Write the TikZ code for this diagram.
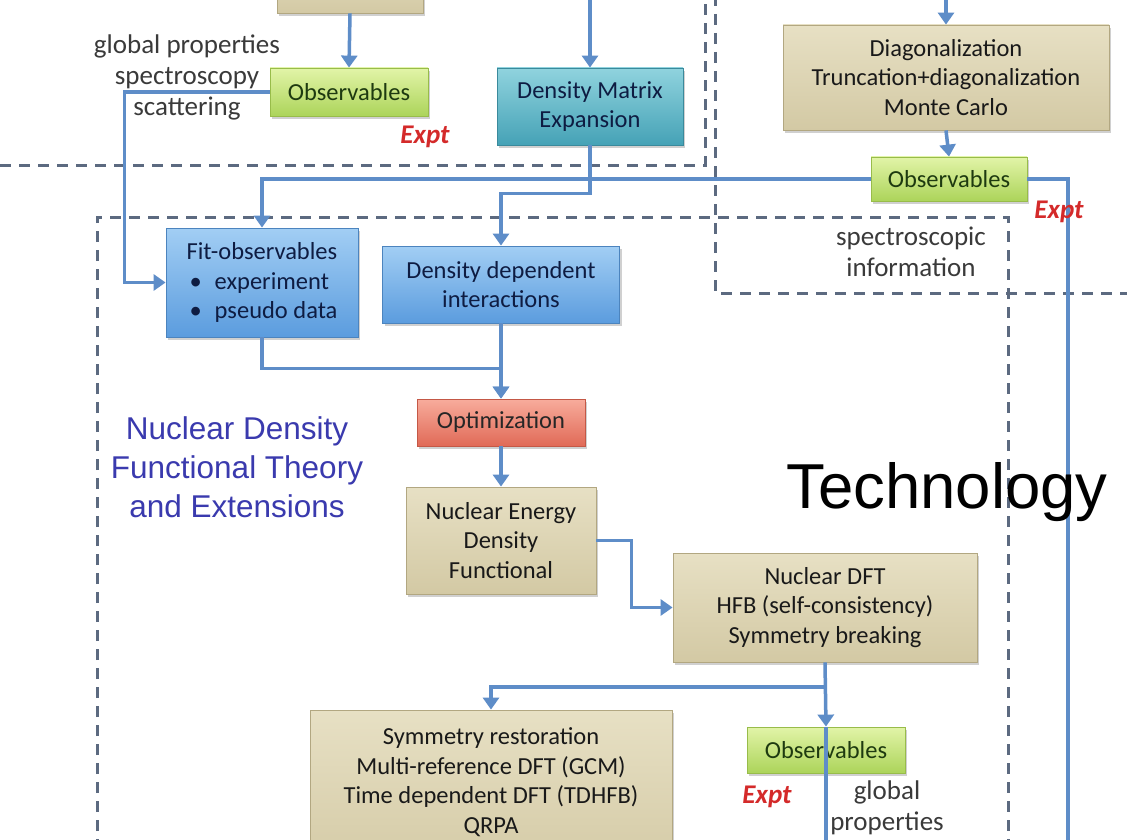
\documentclass[tikz,border=0pt]{standalone}
\usepackage{fontspec}
\setmainfont{Carlito}
\newfontfamily\arialf{Liberation Sans}
\usetikzlibrary{arrows.meta,shadows}
\definecolor{tanT}{HTML}{E7E0C4}
\definecolor{tanB}{HTML}{D3C9A4}
\definecolor{tanD}{HTML}{B2A781}
\definecolor{grnT}{HTML}{E2F4A8}
\definecolor{grnB}{HTML}{ACD45A}
\definecolor{grnD}{HTML}{98BC4A}
\definecolor{bluT}{HTML}{A2CEF4}
\definecolor{bluB}{HTML}{5B9CDE}
\definecolor{bluD}{HTML}{4C84BE}
\definecolor{tealT}{HTML}{90D3DE}
\definecolor{tealB}{HTML}{45A2B6}
\definecolor{tealD}{HTML}{3A8A9C}
\definecolor{redT}{HTML}{F8AC9C}
\definecolor{redB}{HTML}{E06A57}
\definecolor{redD}{HTML}{C45846}
\definecolor{conn}{HTML}{5E8DC8}
\definecolor{dashc}{HTML}{5C6A80}
\definecolor{exptc}{HTML}{D42A2A}
\definecolor{grayt}{HTML}{3A3A3A}
\definecolor{titleblue}{HTML}{3A3AAE}
\definecolor{navyt}{HTML}{0E1C42}
\definecolor{greent}{HTML}{1E3A10}
\begin{document}
\begin{tikzpicture}[x=1pt,y=-1pt,
  bx/.style={rectangle, inner sep=0pt, align=center, line width=0.8pt,
    font=\fontsize{24.5}{29.5}\selectfont,
    drop shadow={shadow xshift=2pt, shadow yshift=-3pt, opacity=0.3, fill=black!60}},
  tanbox/.style={bx, draw=tanD, top color=tanT, bottom color=tanB, text=black!90},
  grnbox/.style={bx, draw=grnD, top color=grnT, bottom color=grnB, text=greent},
  blubox/.style={bx, draw=bluD, top color=bluT, bottom color=bluB, text=navyt},
  tealbox/.style={bx, draw=tealD, top color=tealT, bottom color=tealB, text=navyt},
  redbox/.style={bx, draw=redD, top color=redT, bottom color=redB, text=black!85},
  link/.style={draw=conn, line width=3.5pt},
  arr/.style={link, -{Triangle[width=16pt,length=12pt]}},
  dashline/.style={draw=dashc, line width=3pt, dash pattern=on 11pt off 8pt},
  side/.style={align=center, text=grayt, font=\fontsize{27}{31}\selectfont},
  expt/.style={text=exptc, font=\fontsize{27}{30}\selectfont\bfseries\itshape}
]
\useasboundingbox (0,0) rectangle (1127,840);
\fill[white] (0,0) rectangle (1127,840);

% dashed region borders
\draw[dashline] (0,165) -- (705,165) -- (705,-5);
\draw[dashline] (715,-5) -- (715,293) -- (1135,293);
\draw[dashline] (97,850) -- (97,217) -- (1008,217) -- (1008,850);

% boxes
\node[tanbox, minimum width=146pt, minimum height=60pt] (tantop) at (350,-17) {};
\node[grnbox, minimum width=158pt, minimum height=48pt] (obs1) at (349,92) {Observables};
\node[tealbox, minimum width=186pt, minimum height=77pt] (dme) at (590,106.5) {Density Matrix\\Expansion};
\node[tanbox, minimum width=326pt, minimum height=105pt] (diag) at (946,77.5) {Diagonalization\\Truncation+diagonalization\\Monte Carlo};
\node[grnbox, minimum width=156pt, minimum height=44pt] (obs2) at (949,179) {Observables};
\node[blubox, minimum width=192pt, minimum height=109pt, align=left] (fit) at (262,282.5)
  {Fit-observables\\\hspace{3pt}\textbullet\hspace{13pt}experiment\\\hspace{3pt}\textbullet\hspace{13pt}pseudo data};
\node[blubox, minimum width=237pt, minimum height=77pt] (ddi) at (501,284.5) {Density dependent\\interactions};
\node[redbox, minimum width=168pt, minimum height=47pt] (opt) at (501,422.5) {Optimization};
\node[tanbox, minimum width=190pt, minimum height=107pt] (nedf) at (501,540.5) {Nuclear Energy\\Density\\Functional};
\node[tanbox, minimum width=304pt, minimum height=109pt] (ndft) at (825,607.5) {Nuclear DFT\\HFB (self-consistency)\\Symmetry breaking};
\node[grnbox, minimum width=158pt, minimum height=46pt] (obs3) at (826,750) {Observables};
\node[tanbox, minimum width=362pt, minimum height=170pt] (symr) at (491,795) {};
\node[align=center, font=\fontsize{24.5}{29.5}\selectfont, text=black!90] (symrtext) at (491,782)
  {Symmetry restoration\\Multi-reference DFT (GCM)\\Time dependent DFT (TDHFB)\\QRPA};

% free ends
\coordinate (dmein) at (590,-5);
\coordinate (diagin) at (946,-5);
\coordinate (rout) at (1068,850);
\coordinate (bout) at (826,850);
\coordinate (br) at (826,687);

% connectors
\draw[arr] (tantop.south) -- (obs1.north);
\draw[arr] (obs1.west) -- ++(-145,0) |- (fit.west);
\draw[arr] (dmein) -- (dme.north);
\draw[arr] (diagin) -- (diag.north);
\draw[arr] (diag.south) -- (obs2.north);
\draw[arr] (obs2.west) -| (fit.north);
\draw[link] (obs2.east) -| (rout);
\draw[arr] (dme.south) -- ++(0,48) -| (ddi.north);
\draw[arr] (fit.south) -- ++(0,31) -| (opt.north);
\draw[arr] (ddi.south) -- (opt.north);
\draw[arr] (opt.south) -- (nedf.north);
\draw[arr] (nedf.east) -- ++(35,0) |- (ndft.west);
\draw[arr] (ndft.south) -- (obs3.north);
\draw[link] (obs3.north) -- (bout);
\draw[arr] (br) -| (symr.north);

% side texts
\node[side] (gp1) at (187,77) {global properties\\spectroscopy\\scattering};
\node[expt] (expt1) at (425,137) {Expt};
\node[side] (spec) at (911,252) {spectroscopic\\information};
\node[expt] (expt2) at (1059,212) {Expt};
\node[expt] (expt3) at (767,797) {Expt};
\node[side] (gp2) at (887,808) {global\\properties};
\node[align=center, text=titleblue, font=\arialf\fontsize{31.5}{39}\selectfont] (title) at (237,467)
  {Nuclear Density\\Functional Theory\\and Extensions};
\node[anchor=base, font=\arialf\fontsize{63.5}{70}\selectfont, text=black] (tech) at (947,508) {Technology};
\end{tikzpicture}
\end{document}
